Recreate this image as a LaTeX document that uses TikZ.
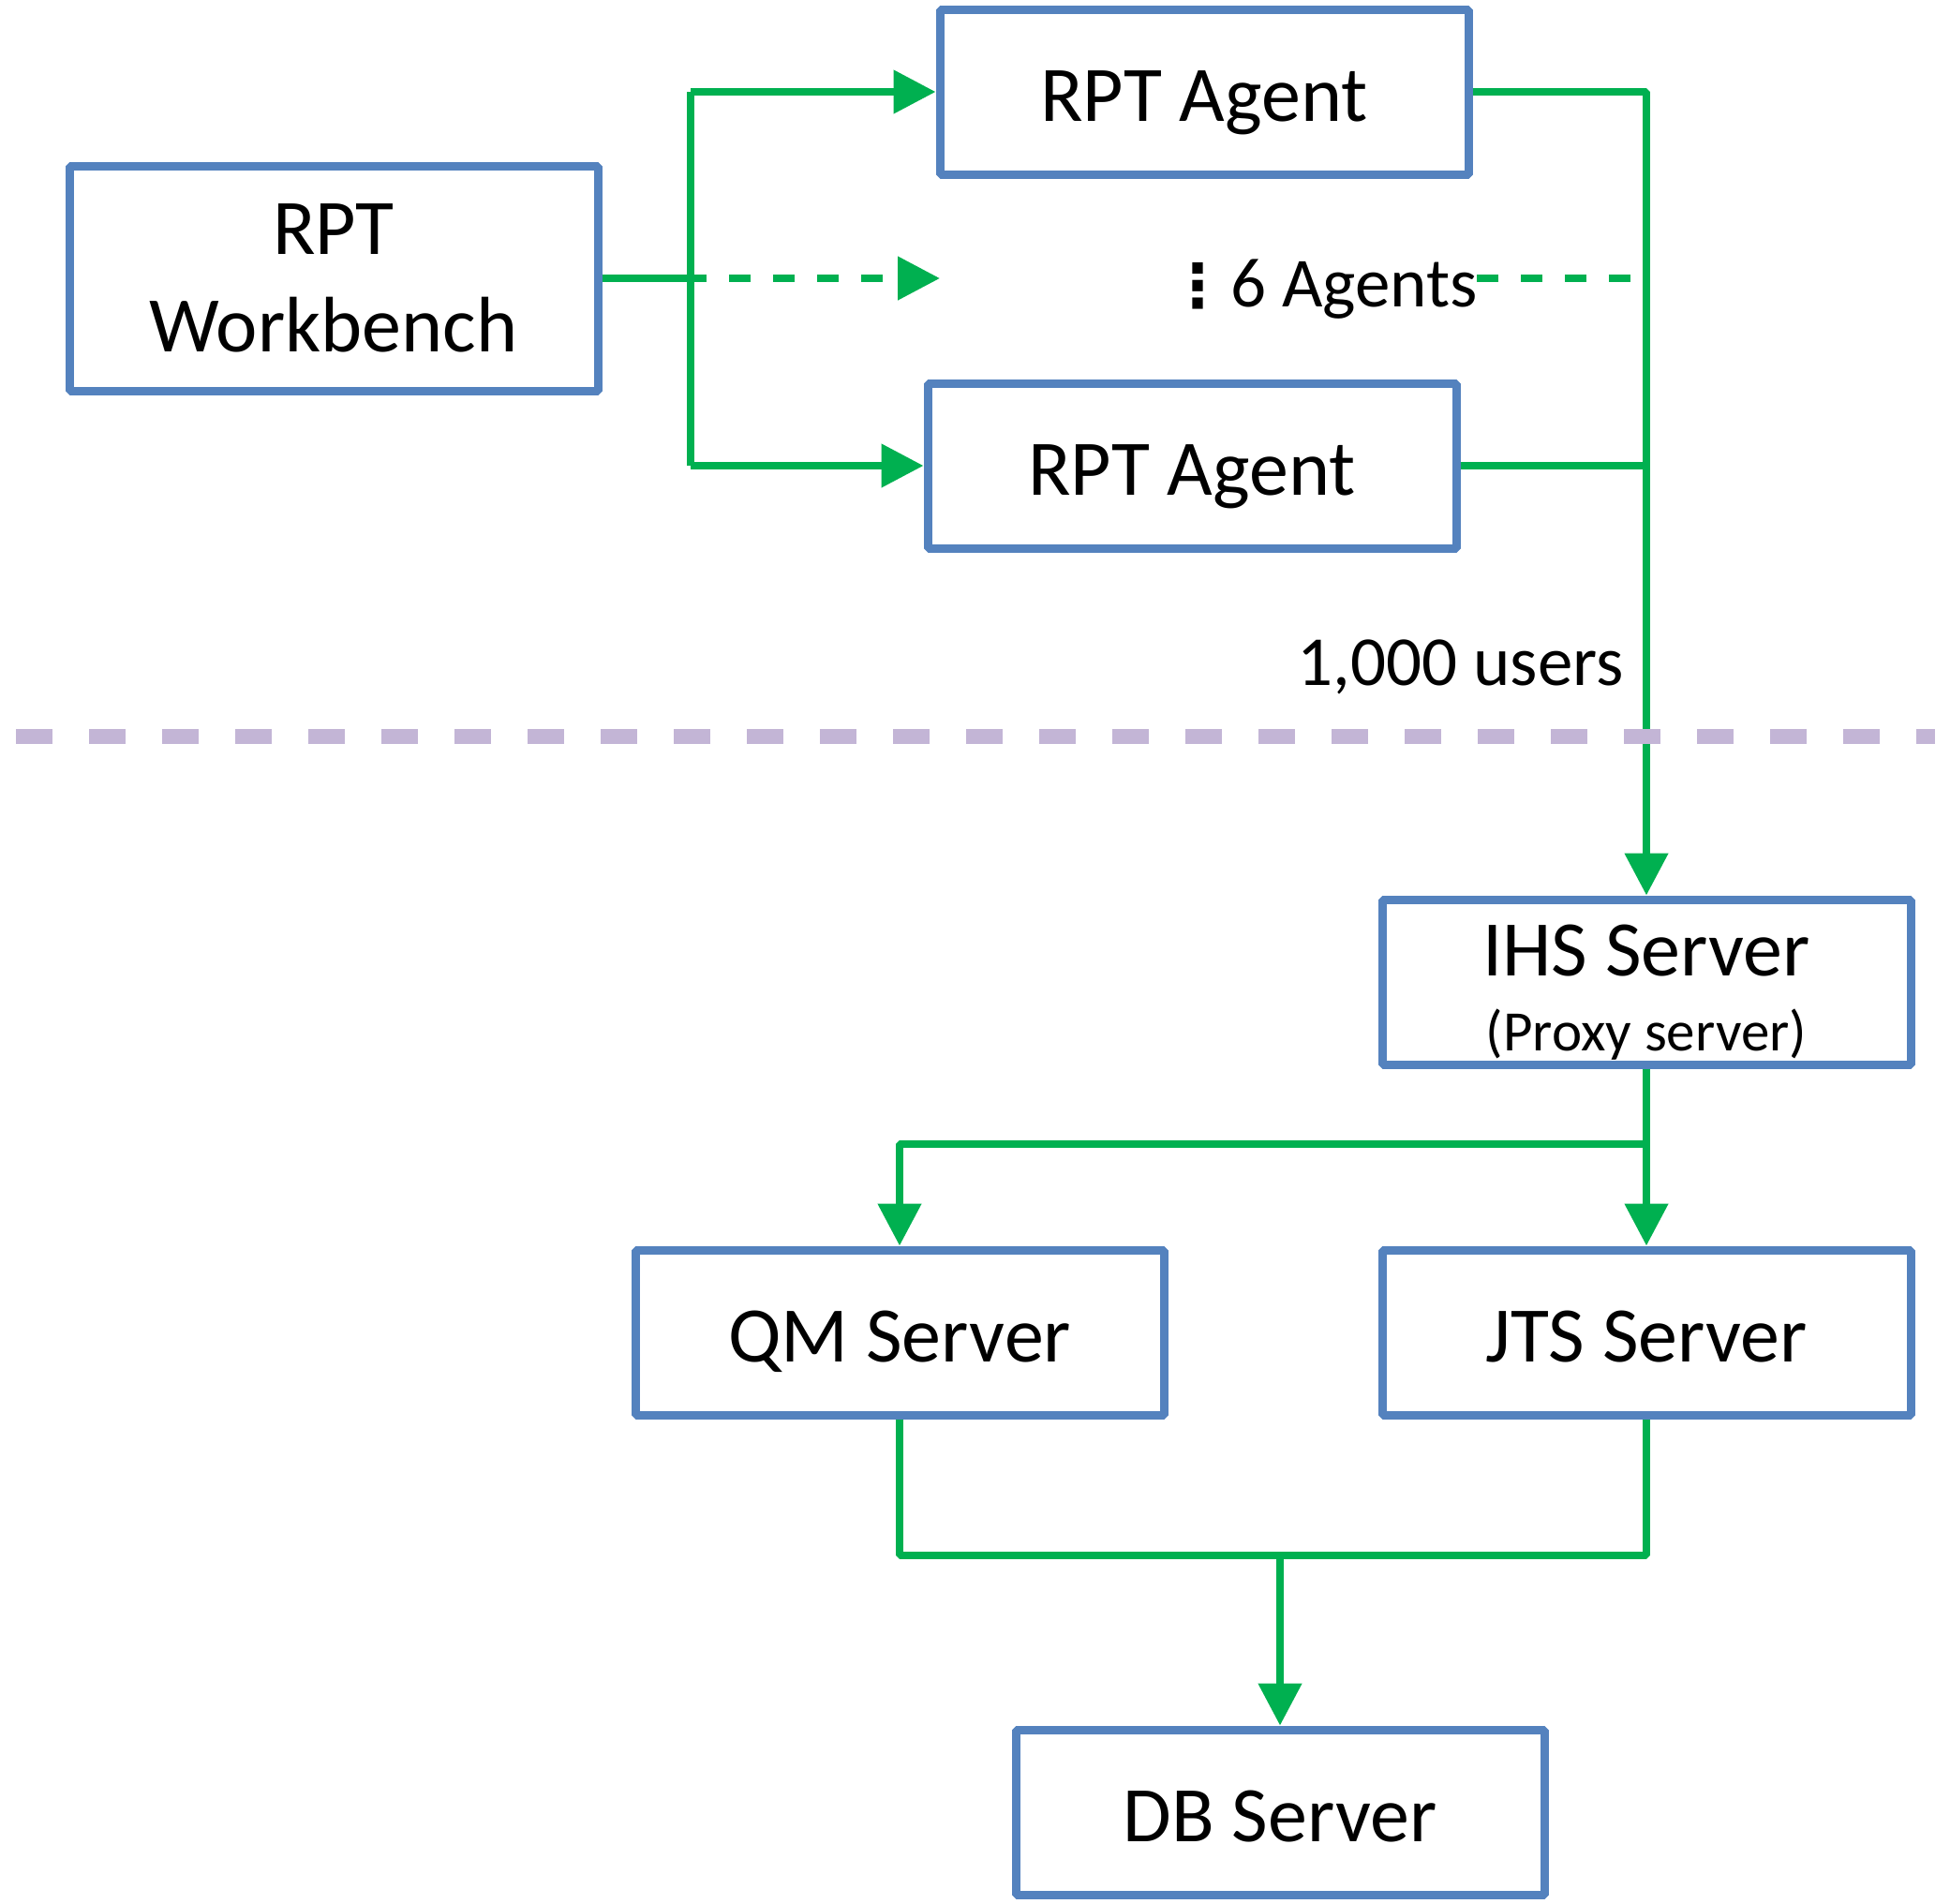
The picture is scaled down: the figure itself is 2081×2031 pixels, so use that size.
\documentclass[tikz,border=0pt]{standalone}
\usepackage{fontspec}
\setmainfont{Carlito}
\newfontfamily\djv{DejaVu Sans}
\usetikzlibrary{arrows.meta}
\definecolor{boxblue}{RGB}{84,130,190}
\definecolor{lgreen}{RGB}{0,176,80}
\definecolor{lpurple}{RGB}{195,181,214}
\begin{document}
\begin{tikzpicture}[x=0.5pt,y=-0.5pt,
  box/.style={draw=boxblue,line width=4.5pt,line join=bevel,fill=white,
    minimum width=282pt,minimum height=88pt,inner sep=0pt,
    font=\fontsize{42}{52}\selectfont},
  one/.style={text height=31pt,text depth=0pt},
  link/.style={draw=lgreen,line width=4pt,line join=bevel},
  tip/.style={-{Triangle[length=22.5pt,width=22.5pt]}},
  dsh/.style={dash pattern=on 11.5pt off 12pt},
  lbl/.style={inner sep=0pt,font=\fontsize{37.5}{46}\selectfont}
]
\useasboundingbox (0,0) rectangle (2081,2031);

% boxes
\node[box,align=center,minimum height=120pt] (wb) at (356,297) {RPT\\Workbench};
\node[box,one] (a1) at (1285,98) {RPT Agent};
\node[box,one] (a2) at (1272,497) {RPT Agent};
\node[box,align=center] (ihs) at (1757,1048) {\rule{0pt}{38pt}IHS Server\\[-12pt]{\fontsize{30.5}{36}\selectfont (Proxy server)}};
\node[box,one] (qm) at (960,1422) {QM Server};
\node[box,one] (jts) at (1757,1422) {JTS Server};
\node[box,one] (db) at (1366,1934) {DB Server};

% labels
\node[lbl,anchor=base east] (users) at (1733,731) {1,000 users};
\node[inner sep=0pt,font=\djv\bfseries\fontsize{32}{38}\selectfont] (vd) at (1278,305) {⋮};
\node[inner sep=0pt,font=\fontsize{37.5}{45}\selectfont,anchor=base west] (ag) at (1313,327) {6 Agents};

% coordinates
\coordinate (wbr) at (737,297);
\coordinate (bt) at (737,98);
\coordinate (bb) at (737,497);
\coordinate (dend) at (1003,297);
\coordinate (rt) at (1757,98);
\coordinate (rm) at (1757,497);
\coordinate (ds) at (1576,297);
\coordinate (de) at (1740,297);
\coordinate (ib) at (1757,1221);
\coordinate (ql) at (960,1221);
\coordinate (qb) at (960,1660);
\coordinate (jb) at (1757,1660);
\coordinate (dt) at (1366,1660);
\coordinate (pl) at (17,786);
\coordinate (pr) at (2065,786);

% connectors
\draw[link] (wb.east) -- (wbr);
\draw[link] (bt) -- (bb);
\draw[link,tip] (bt) -- (a1.west);
\draw[link,tip] (bb) -- (a2.west);
\draw[link,tip,dsh,dash phase=3pt] (wbr) -- (dend);
\draw[link,tip] (a1.east) -- (rt) -- (ihs.north);
\draw[link] (a2.east) -- (rm);
\draw[link,dsh] (ds) -- (de);
\draw[link,tip] (ihs.south) -- (jts.north);
\draw[link,tip] (ib) -- (ql) -- (qm.north);
\draw[link] (qm.south) -- (qb) -- (jb) -- (jts.south);
\draw[link,tip] (dt) -- (db.north);

% separator
\draw[draw=lpurple,line width=8pt,dash pattern=on 19.5pt off 19.5pt] (pl) -- (pr);
\end{tikzpicture}
\end{document}
